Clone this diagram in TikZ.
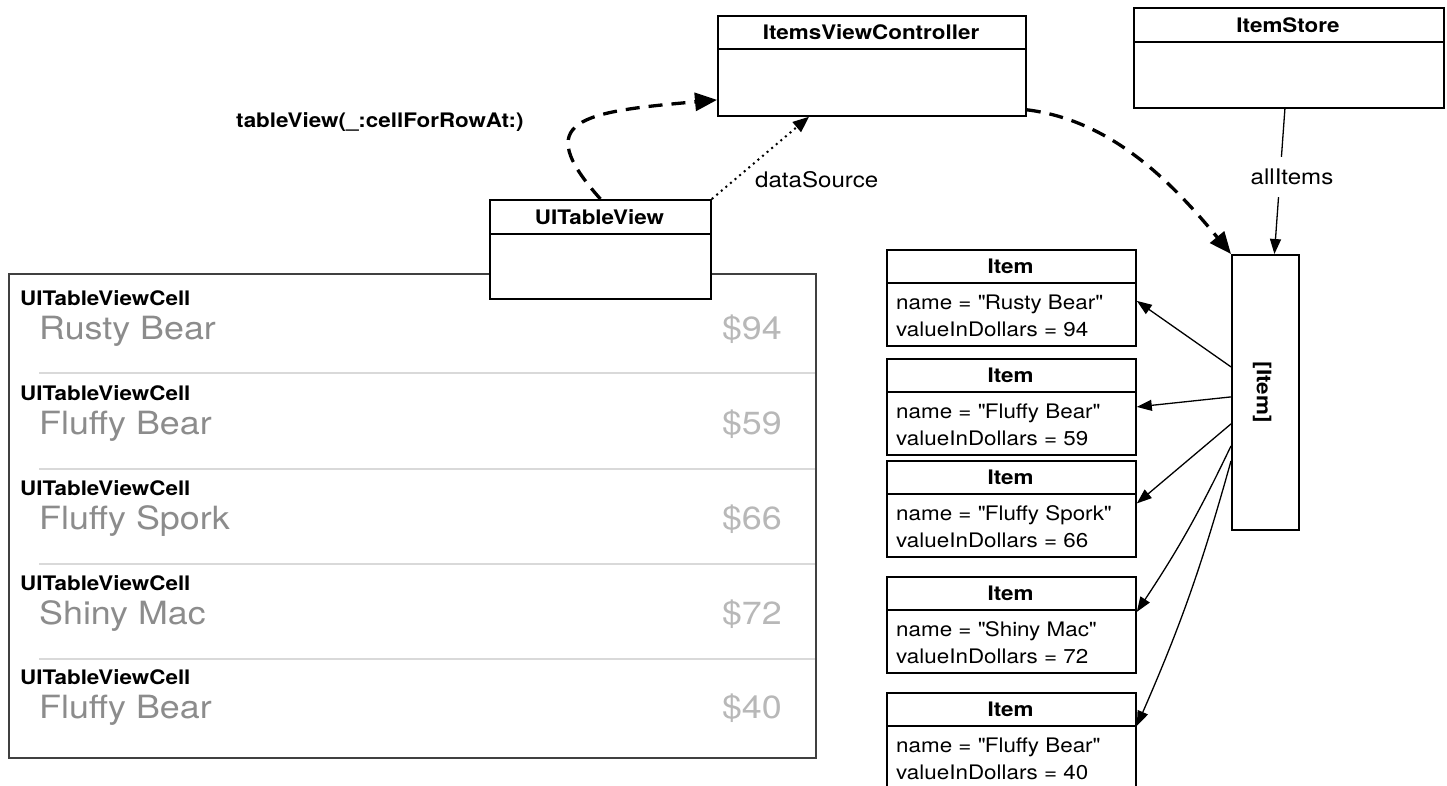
\documentclass[tikz,border=0pt]{standalone}
\usepackage{fontspec}
\setmainfont{TeX Gyre Heros}[FakeStretch=1.12]
\usetikzlibrary{arrows.meta}
\newcommand\fsz[1]{\fontsize{#1}{#1}\selectfont}
\tikzset{
 umlbox/.style={draw, line width=1.8pt, fill=white, inner sep=0pt, anchor=north west},
 btxt/.style={font=\fsz{20}\bfseries, inner sep=0pt, text height=14.4pt, text depth=0pt},
 rtxt/.style={font=\fsz{20}, inner sep=0pt, text height=14.4pt, text depth=0pt, anchor=west},
 lbl/.style={font=\fsz{21.5}, inner sep=0pt, text height=15.5pt, text depth=0pt},
 bigname/.style={font=\fsz{32}, text=black!45, inner sep=0pt, text height=23pt, text depth=0pt, anchor=west},
 price/.style={font=\fsz{32}, text=black!28, inner sep=0pt, text height=23pt, text depth=0pt, anchor=east},
 dasharrow/.style={line width=3.3pt, dash pattern=on 14pt off 9pt, -{Triangle[length=22pt,width=18pt]}},
 dotarrow/.style={line width=2pt, dash pattern=on 2pt off 4pt, -{Triangle[length=16pt,width=13pt]}},
 thinarrow/.style={line width=1.3pt, -{Triangle[length=15pt,width=11pt]}},
 sepline/.style={draw=black!15, line width=1.2pt},
 divline/.style={line width=1.8pt},
}
\begin{document}
\begin{tikzpicture}[x=1pt,y=-1pt]
\useasboundingbox (0,0) rectangle (1447,785);
\clip (0,0) rectangle (1447,785);

% table frame and cells
\node[draw=black!75, line width=1.5pt, inner sep=0pt, anchor=north west, minimum width=807pt, minimum height=484pt] (table) at (8,273) {};
\foreach \yy in {373,469,564,659} { \draw[sepline] (39,\yy) -- (815,\yy); }
\foreach \i/\n/\p/\y in {1/Rusty Bear/94/298, 2/Fluffy Bear/59/393, 3/Fluffy Spork/66/488, 4/Shiny Mac/72/583, 5/Fluffy Bear/40/677} {
  \node[btxt, anchor=west] (cell\i) at (20,\y) {UITableViewCell};
  \node[bigname] (name\i) at (39,\y+30) {\n};
  \node[price] (price\i) at (782,\y+30) {\$\p};
}

% class boxes
\node[umlbox, minimum width=308pt, minimum height=100pt] (ivc) at (717,15) {};
\draw[divline] ([yshift=-34pt]ivc.north west) -- ([yshift=-34pt]ivc.north east);
\node[btxt] (ivct) at (871,32) {ItemsViewController};

\node[umlbox, minimum width=310pt, minimum height=100pt] (store) at (1133,7) {};
\draw[divline] ([yshift=-35pt]store.north west) -- ([yshift=-35pt]store.north east);
\node[btxt] (storet) at (1288,25) {ItemStore};

\node[umlbox, minimum width=221pt, minimum height=99pt] (tv) at (489,199) {};
\draw[divline] ([yshift=-35pt]tv.north west) -- ([yshift=-35pt]tv.north east);
\node[btxt] (tvt) at (599.5,217) {UITableView};

\node[umlbox, minimum width=67pt, minimum height=275pt] (arr) at (1231,254) {};
\node[btxt, rotate=-90] (arrt) at (1264,392) {[Item]};

% item boxes
\foreach \i/\n/\p/\t in {1/Rusty Bear/94/249, 2/Fluffy Bear/59/358, 3/Fluffy Spork/66/460, 4/Shiny Mac/72/576, 5/Fluffy Bear/40/692} {
  \node[umlbox, minimum width=249pt, minimum height=96pt] (item\i) at (886,\t) {};
  \draw[divline] ([yshift=-34pt]item\i.north west) -- ([yshift=-34pt]item\i.north east);
  \node[btxt] (item\i t) at (1010.5,\t+17) {Item};
  \node[rtxt] (item\i n) at (896,\t+53) {name = \textquotedbl\n\textquotedbl};
  \node[rtxt] (item\i v) at (896,\t+80) {valueInDollars = \p};
}

% labels
\node[btxt, anchor=west] (cfr) at (236,120) {tableView(\_:cellForRowAt:)};
\node[lbl, anchor=west] (ds) at (755,180) {dataSource};

% connectors
\draw[dasharrow] (tv.north) .. controls (530,120) and (580,112) .. ([yshift=-34pt]ivc.west);
\draw[dotarrow] (tv.north east) -- ([xshift=-63pt]ivc.south);
\draw[dasharrow] ([yshift=7pt]ivc.south east) .. controls (1110,120) and (1170,180) .. (arr.north west);
\draw[thinarrow] ([xshift=-4pt]store.south) -- ([xshift=9pt]arr.north);
\node[lbl, fill=white, minimum height=40pt, inner xsep=2pt] (alli) at (1292,177) {allItems};

\draw[thinarrow] ([yshift=25.5pt]arr.west) -- ([yshift=-3pt]item1.east);
\draw[thinarrow] ([yshift=-4.5pt]arr.west) -- (item2.east);
\draw[thinarrow] ([yshift=-31.5pt]arr.west) -- ([yshift=5.5pt]item3.east);
\draw[thinarrow] ([yshift=-53.5pt]arr.west) to[bend left=4] ([yshift=13pt]item4.east);
\draw[thinarrow] ([yshift=-68.5pt]arr.west) to[bend left=4] ([yshift=15pt]item5.east);
\end{tikzpicture}
\end{document}
